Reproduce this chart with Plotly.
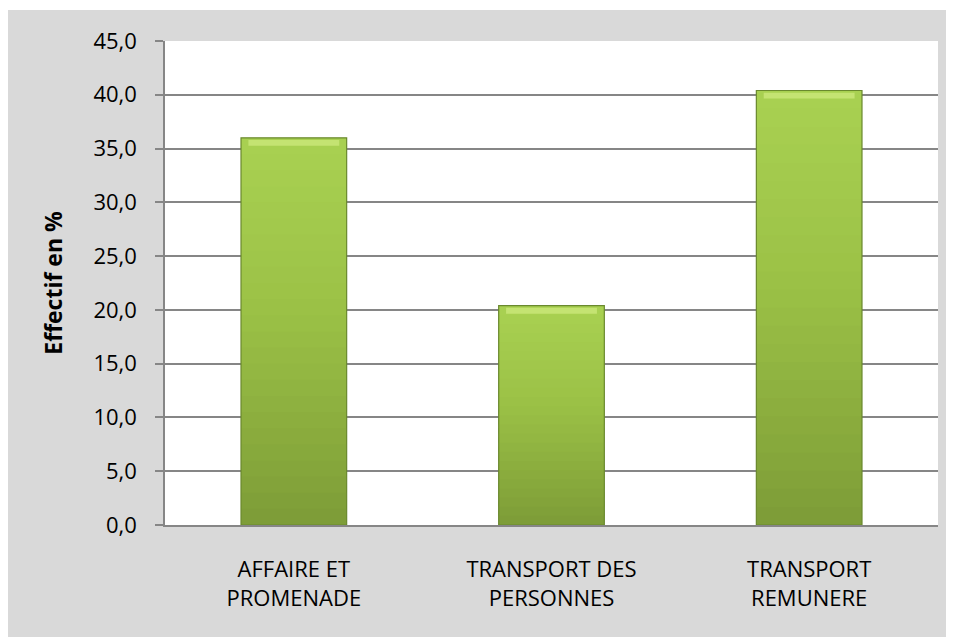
import plotly.graph_objects as go

categories = ["AFFAIRE ET<br>PROMENADE", "TRANSPORT DES<br>PERSONNES", "TRANSPORT<br>REMUNERE"]
values = [36.0, 20.4, 40.4]
y_ticks = [0, 5, 10, 15, 20, 25, 30, 35, 40, 45]

W, H = 946, 629
L, R, T, B = 157, 16, 33, 112
PW, PH = W - L - R, H - T - B

def lerp(c1, c2, t):
    a = [int(c1[i:i+2], 16) for i in (1, 3, 5)]
    b = [int(c2[i:i+2], 16) for i in (1, 3, 5)]
    return "#" + "".join(f"{round(a[k] + (b[k]-a[k])*t):02x}" for k in range(3))

fig = go.Figure()
N = 24
bottom_c, mid_c, top_c = "#7d9c37", "#9bc146", "#a9d152"
bw = 0.41
for i in range(N):
    t = (i + 0.5) / N
    col = lerp(bottom_c, mid_c, t / 0.55) if t < 0.55 else lerp(mid_c, top_c, (t - 0.55) / 0.45)
    frac = 1.6 if i < N - 1 else 1.0
    fig.add_trace(go.Bar(
        x=categories, y=[v / N * frac for v in values], base=[v * i / N for v in values],
        width=bw, marker=dict(color=col, line=dict(width=0)), hoverinfo="skip", showlegend=False))

# top bevel highlight
fig.add_trace(go.Bar(
    x=categories, y=[0.55 for v in values], base=[v - 0.75 for v in values],
    width=bw * 0.86, marker=dict(color="#c4e372", line=dict(width=0)), hoverinfo="skip", showlegend=False))

# outline
fig.add_trace(go.Bar(
    x=categories, y=values, width=bw,
    marker=dict(color="rgba(0,0,0,0)", line=dict(color="#6a892e", width=1.2)),
    hovertemplate="%{x}: %{y:.1f}<extra></extra>", showlegend=False))

fig.update_layout(
    width=W, height=H,
    margin=dict(l=L, r=R, t=T, b=B),
    barmode="overlay",
    paper_bgcolor="white",
    plot_bgcolor="white",
    separators=", ",
    font=dict(family="Open Sans", size=22, color="#000000"),
    shapes=[
        dict(type="rect", xref="paper", yref="paper", layer="below",
             x0=-L / PW, x1=(W - L) / PW, y0=-B / PH, y1=1 + (T - 2) / PH,
             fillcolor="#d9d9d9", line=dict(width=0)),
        dict(type="rect", xref="paper", yref="paper", layer="below",
             x0=0, x1=1, y0=0, y1=1, fillcolor="white", line=dict(width=0)),
    ],
)
fig.update_xaxes(
    showline=True, linecolor="#868686", linewidth=1.5,
    ticks="", showgrid=False, ticklabelstandoff=24,
    tickfont=dict(family="Open Sans", size=22),
)
fig.update_yaxes(
    range=[0, 45], tickvals=y_ticks, tickformat=".1f",
    showline=True, linecolor="#868686", linewidth=1.5,
    ticks="outside", ticklen=8, tickcolor="#868686", tickwidth=1.5,
    showgrid=True, gridcolor="#868686", gridwidth=1.5,
    zeroline=False, ticklabelstandoff=14,
    tickfont=dict(family="Open Sans", size=22),
    title=dict(text="<b>Effectif en %</b>", font=dict(family="Open Sans", size=23), standoff=24),
)
fig.write_html("out.html")
